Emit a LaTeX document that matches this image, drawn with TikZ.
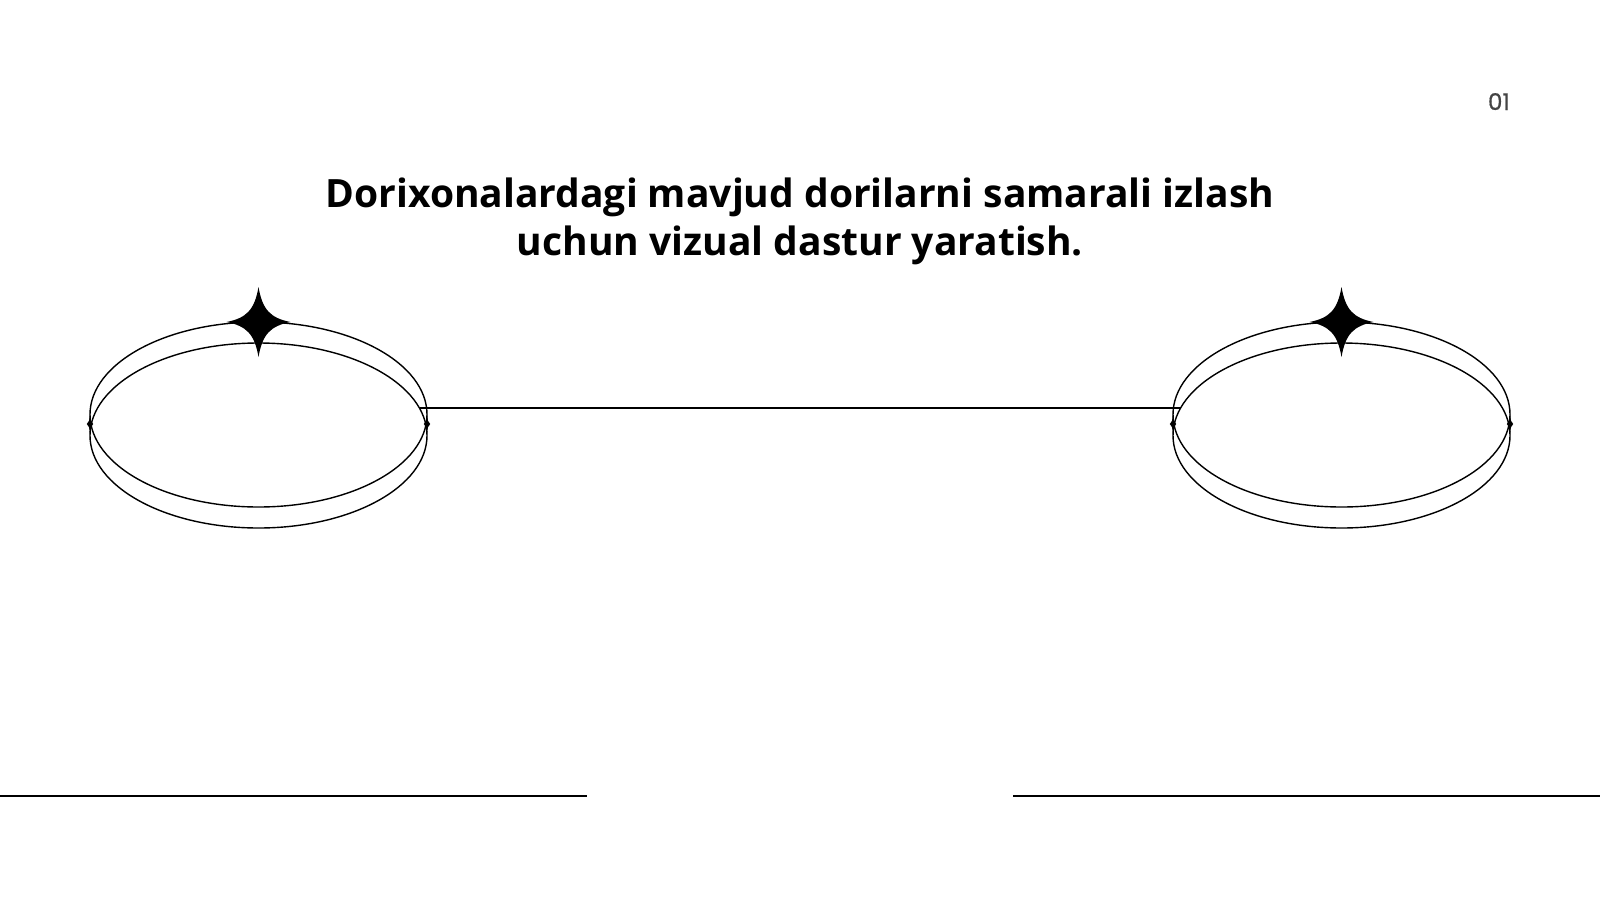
\documentclass[tikz,border=0pt]{standalone}
\usepackage{fontspec}
\setmainfont{Open Sans}
\newfontfamily\numfont[FakeBold=0.6]{Poppins}
\usetikzlibrary{shapes.geometric}
\definecolor{pagegray}{HTML}{444444}
\tikzset{
  ring/.style={draw=black, line width=1.4pt, ellipse, inner sep=0pt, outer sep=0pt,
    minimum width=337pt, minimum height=185pt},
  rule/.style={draw=black, line width=1.4pt},
  sparkle/.pic={\fill[black] (0,-35) .. controls (4,-12) and (12,-4) .. (32,0)
      .. controls (12,4) and (4,12) .. (0,35)
      .. controls (-4,12) and (-12,4) .. (-32,0)
      .. controls (-12,-4) and (-4,-12) .. cycle;},
  sidemark/.pic={\fill[black] (0,-10.5) .. controls (0.5,-3.5) and (1.3,-1.2) .. (3.2,0)
      .. controls (1.3,1.2) and (0.5,3.5) .. (0,10.5)
      .. controls (-0.5,3.5) and (-1.3,1.2) .. (-3.2,0)
      .. controls (-1.3,-1.2) and (-0.5,-3.5) .. cycle;},
  titletext/.style={font=\bfseries\fontsize{39}{48}\selectfont, inner sep=0pt, anchor=base}
}
\begin{document}
\begin{tikzpicture}[x=1pt,y=-1pt]
\path[use as bounding box, fill=white] (0,0) rectangle (1600,900);
% title
\node[titletext] (t1) at (800,207.5) {Dorixonalardagi mavjud dorilarni samarali izlash};
\node[titletext] (t2) at (800,255.5) {uchun vizual dastur yaratish.};
% page number
\node[font=\numfont\fontsize{23}{27}\selectfont, text=pagegray, inner sep=0pt, anchor=base east] (pn) at (1510,110) {01};
% left rings
\node[ring] (Lup) at (258.5,414.5) {};
\node[ring] (Llow) at (258.5,435.5) {};
% right rings
\node[ring] (Rup) at (1341.5,414.5) {};
\node[ring] (Rlow) at (1341.5,435.5) {};
% connector ends on the lower rings
\coordinate (cl) at (419.4,408);
\coordinate (cr) at (1180.6,408);
\draw[rule] (cl) -- (cr);
% stars
\pic at (Lup.north) {sparkle};
\pic at (Rup.north) {sparkle};
\pic at (Lup.west |- 0,424) {sidemark};
\pic at (Lup.east |- 0,424) {sidemark};
\pic at (Rup.west |- 0,424) {sidemark};
\pic at (Rup.east |- 0,424) {sidemark};
% bottom rules
\coordinate (bl0) at (0,796);
\coordinate (bl1) at (587,796);
\coordinate (br0) at (1013,796);
\coordinate (br1) at (1600,796);
\draw[rule] (bl0) -- (bl1);
\draw[rule] (br0) -- (br1);
\end{tikzpicture}
\end{document}
